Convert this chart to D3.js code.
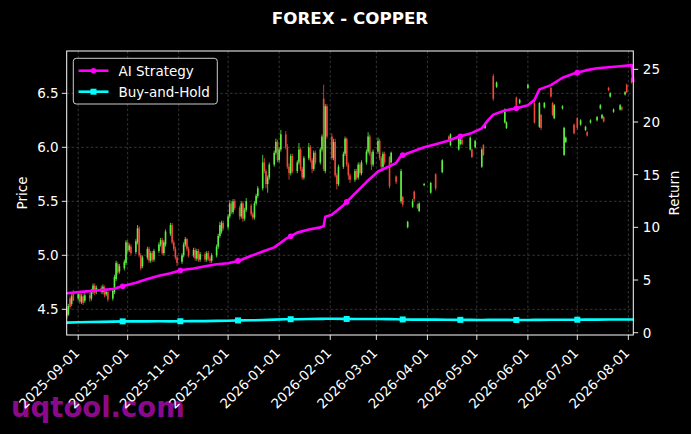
<!DOCTYPE html>
<html><head><meta charset="utf-8">
<script src="https://cdn.jsdelivr.net/npm/d3@7"></script>
<style>html,body{margin:0;padding:0;background:#000;}svg{display:block;font-family:"DejaVu Sans",sans-serif;}</style>
</head><body>
<script>
// ---------- DATA ----------
const title = "FOREX - COPPER";
const startDay = "2025-08-25", endDay = "2026-08-04";
// daily candles on business days (Mon..Fri) from startDay, one row per week
const opens = [
4.50,4.45,4.60,4.55,4.66, 4.60,4.64,4.57,4.62,4.58, 4.63,4.60,4.66,4.72,4.66, 4.70,4.66,4.70,4.64,4.66,
4.60,4.66,4.78,4.92,4.85, 4.88,4.93,5.12,5.05,5.08, 5.03,5.12,5.25,5.00,4.90, 4.98,5.06,4.95,5.02,4.96,
5.04,5.10,5.14,5.02,5.10, 5.20,5.28,5.12,5.06,4.98, 4.94,5.00,5.10,5.15,5.06, 5.00,5.05,4.97,5.04,4.96,
5.01,4.96,5.02,4.97,4.95, 5.00,5.08,5.18,5.22,5.30, 5.26,5.36,5.48,5.40,5.50, 5.44,5.36,5.48,5.34,5.42,
5.46,5.38,5.35,5.48,5.55, 5.62,5.86,5.78,5.66,5.72, 5.84,5.95,6.05,5.88,5.98, 6.12,6.00,5.82,5.76,5.92,
5.78,5.86,5.98,5.80,5.72, 5.90,6.00,5.88,5.80,5.95, 5.86,5.98,6.45,5.78,6.38, 6.10,5.90,6.05,5.74,5.66,
5.82,5.94,6.08,5.84,5.74, 5.70,5.78,5.72,5.84,5.76, 5.86,5.96,6.10,5.94,5.84, 5.96,6.06,5.90,5.82,5.94,
5.91,5.86,null,null,5.73, 5.50,5.54,null,null,5.26, 5.45,5.59,null,5.47,5.41, 5.65,null,null,null,5.58,
5.75,null,null,null,5.77, null,6.10,6.02,null,null, 5.98,6.03,6.07,null,null, 5.98,5.98,null,6.00,null,
5.82,6.02,6.18,null,null, 6.66,null,6.56,null,null, 6.23,6.18,null,null,null, 6.46,null,6.41,null,null,
6.55,null,null,null,6.41, 6.19,6.30,null,6.37,null, 6.55,6.41,6.27,null,null, 6.36,5.93,6.05,null,null,
6.21,null,6.27,null,6.21, 6.16,6.14,null,6.23,null, 6.25,null,6.36,6.27,6.28, 6.55,6.47,null,6.33,null,
6.35,6.37,null,6.49,6.58, 6.64,null];
const closes = [
4.43,4.53,4.52,4.62,4.58, 4.64,4.57,4.62,4.56,4.63, 4.60,4.67,4.72,4.65,4.70, 4.66,4.71,4.63,4.66,4.59,
4.67,4.80,4.93,4.84,4.90, 4.94,5.12,5.04,5.09,5.02, 5.13,5.25,5.00,4.88,4.98, 5.06,4.95,5.02,4.96,5.04,
5.10,5.14,5.02,5.12,5.22, 5.28,5.12,5.06,4.98,4.93, 5.00,5.10,5.15,5.06,5.00, 5.05,4.97,5.04,4.96,5.01,
4.96,5.02,4.97,4.95,5.00, 5.08,5.18,5.28,5.30,5.25, 5.36,5.48,5.40,5.50,5.44, 5.36,5.48,5.34,5.42,5.50,
5.38,5.35,5.48,5.55,5.62, 5.86,5.78,5.66,5.72,5.84, 5.95,6.05,5.88,5.98,6.12, 6.00,5.82,5.76,5.92,5.78,
5.86,5.98,5.80,5.72,5.90, 6.00,5.88,5.80,5.95,5.86, 5.98,6.10,5.80,6.38,6.10, 5.90,6.05,5.74,5.66,5.82,
5.94,6.08,5.84,5.74,5.70, 5.78,5.72,5.84,5.76,5.86, 5.96,6.10,5.94,5.84,5.96, 6.06,5.90,5.82,5.94,5.86,
5.64,5.95,null,null,5.68, 5.78,5.47,null,null,5.31, 5.50,5.52,null,5.44,5.48, 5.66,null,null,null,5.67,
5.62,null,null,null,5.88, null,6.06,6.12,null,null, 6.08,6.07,6.03,null,null, 6.09,5.91,null,6.06,null,
5.98,5.93,6.22,null,null, 6.45,null,6.60,null,null, 6.35,6.23,null,null,null, 6.39,null,6.44,null,null,
6.58,null,null,null,6.23, 6.41,6.18,null,6.41,null, 6.47,6.30,6.39,null,null, 6.38,6.18,6.09,null,null,
6.13,null,6.18,null,6.25, 6.19,6.11,null,6.25,null, 6.28,null,6.39,6.30,6.24, 6.53,6.50,null,6.35,null,
6.39,6.35,null,6.51,6.51, 6.60,null];
const highs = [
4.52,4.55,4.62,4.64,4.68, 4.66,4.66,4.64,4.64,4.65, 4.65,4.69,4.74,4.74,4.72, 4.72,4.73,4.72,4.68,4.68,
4.69,4.82,4.95,4.94,4.92, 4.96,5.14,5.14,5.11,5.10, 5.15,5.28,5.27,5.02,5.00, 5.08,5.08,5.04,5.04,5.06,
5.12,5.16,5.16,5.14,5.24, 5.30,5.30,5.14,5.08,5.00, 5.02,5.12,5.17,5.16,5.08, 5.07,5.07,5.06,5.06,5.03,
5.03,5.04,5.04,4.99,5.02, 5.10,5.20,5.31,5.32,5.32, 5.38,5.51,5.50,5.52,5.52, 5.46,5.50,5.50,5.44,5.53,
5.48,5.40,5.50,5.57,5.64, 5.93,5.90,5.80,5.74,5.86, 5.97,6.08,6.07,6.00,6.16, 6.15,6.03,5.85,5.94,5.94,
5.88,6.04,6.00,5.82,5.92, 6.04,6.02,5.90,5.97,5.97, 6.00,6.12,6.58,6.40,6.40, 6.13,6.08,6.08,5.76,5.84,
5.96,6.10,6.09,5.86,5.76, 5.80,5.80,5.86,5.86,5.88, 5.98,6.14,6.12,5.96,5.98, 6.09,6.08,5.92,5.96,5.96,
5.92,5.96,null,null,5.74, 5.80,5.55,null,null,5.32, 5.52,5.60,null,5.48,5.49, 5.67,null,null,null,5.68,
5.76,null,null,null,5.89, null,6.11,6.13,null,null, 6.09,6.08,6.08,null,null, 6.10,5.99,null,6.07,null,
5.99,6.03,6.23,null,null, 6.68,null,6.61,null,null, 6.36,6.24,null,null,null, 6.47,null,6.45,null,null,
6.59,null,null,null,6.43, 6.42,6.31,null,6.42,null, 6.56,6.42,6.40,null,null, 6.39,6.19,6.10,null,null,
6.22,null,6.28,null,6.26, 6.20,6.15,null,6.26,null, 6.29,null,6.40,6.31,6.29, 6.56,6.51,null,6.36,null,
6.40,6.38,null,6.52,6.59, 6.65,null];
const lows = [
4.41,4.44,4.50,4.53,4.58, 4.58,4.55,4.55,4.54,4.56, 4.57,4.58,4.64,4.63,4.64, 4.64,4.64,4.61,4.62,4.57,
4.58,4.64,4.76,4.82,4.83, 4.86,4.91,5.02,5.03,5.00, 5.01,5.10,4.98,4.86,4.88, 4.96,4.93,4.93,4.94,4.94,
5.02,5.08,5.00,5.00,5.08, 5.18,5.10,5.04,4.96,4.90, 4.92,4.98,5.08,5.04,4.98, 4.98,4.95,4.95,4.94,4.94,
4.94,4.94,4.95,4.93,4.93, 4.98,5.06,5.16,5.20,5.23, 5.24,5.34,5.38,5.38,5.42, 5.33,5.34,5.31,5.32,5.40,
5.36,5.33,5.33,5.46,5.53, 5.60,5.76,5.62,5.58,5.70, 5.82,5.93,5.86,5.86,5.96, 5.98,5.80,5.70,5.74,5.76,
5.76,5.84,5.78,5.70,5.70, 5.88,5.86,5.76,5.78,5.84, 5.84,5.96,5.78,5.76,6.08, 5.88,5.88,5.72,5.61,5.64,
5.80,5.92,5.82,5.70,5.67, 5.68,5.70,5.70,5.74,5.74, 5.84,5.94,5.92,5.79,5.82, 5.94,5.88,5.79,5.80,5.84,
5.62,5.85,null,null,5.66, 5.48,5.45,null,null,5.25, 5.44,5.50,null,5.43,5.40, 5.64,null,null,null,5.57,
5.60,null,null,null,5.76, null,6.05,6.01,null,null, 5.97,6.02,6.02,null,null, 5.97,5.90,null,5.99,null,
5.81,5.92,6.17,null,null, 6.43,null,6.55,null,null, 6.22,6.17,null,null,null, 6.38,null,6.40,null,null,
6.54,null,null,null,6.22, 6.18,6.16,null,6.36,null, 6.46,6.29,6.26,null,null, 6.35,5.92,6.04,null,null,
6.12,null,6.16,null,6.20, 6.15,6.10,null,6.22,null, 6.24,null,6.35,6.26,6.23, 6.52,6.46,null,6.32,null,
6.34,6.34,null,6.48,6.50, 6.59,null];

// cumulative returns (right axis)
const retDates = ["2025-08-25","2025-09-01","2025-09-08","2025-09-15","2025-09-22","2025-09-29","2025-10-06","2025-10-13",
"2025-10-20","2025-10-27","2025-11-03","2025-11-10","2025-11-17","2025-11-24","2025-12-01","2025-12-08","2025-12-15",
"2025-12-22","2025-12-29","2026-01-05","2026-01-12","2026-01-19","2026-01-26","2026-01-28","2026-01-29","2026-02-02",
"2026-02-09","2026-02-16","2026-02-23","2026-03-02","2026-03-09","2026-03-13","2026-03-16","2026-03-23","2026-03-30",
"2026-04-06","2026-04-13","2026-04-20","2026-04-27","2026-05-04","2026-05-08","2026-05-11","2026-05-18","2026-05-25",
"2026-06-01","2026-06-05","2026-06-08","2026-06-15","2026-06-22","2026-06-29","2026-07-06","2026-07-13","2026-07-20",
"2026-07-27","2026-08-03","2026-08-04"];
const aiReturn = [3.75,3.85,3.95,4.05,4.15,4.45,4.75,5.1,
5.4,5.65,5.95,6.1,6.3,6.5,6.6,6.85,7.3,
7.7,8.1,8.9,9.5,9.8,10.0,10.1,11.0,11.2,
12.1,13.2,14.3,15.3,15.8,16.1,16.8,17.2,17.6,
17.9,18.2,18.6,18.9,19.4,20.2,20.7,21.1,21.3,
21.6,22.1,23.1,23.5,24.2,24.6,24.9,25.1,25.2,
25.3,25.4,23.8];
const bhReturn = [0.96,0.99,1.01,1.03,1.05,1.08,1.08,1.08,
1.09,1.08,1.09,1.10,1.10,1.12,1.14,1.17,1.18,
1.20,1.24,1.28,1.28,1.30,1.31,1.31,1.33,1.32,
1.31,1.30,1.30,1.30,1.29,1.28,1.26,1.24,1.24,
1.24,1.23,1.22,1.22,1.21,1.22,1.22,1.22,1.21,
1.21,1.22,1.22,1.23,1.23,1.23,1.24,1.24,1.25,
1.25,1.25,1.25];
const markerDates = ["2025-09-28","2025-11-02","2025-12-07","2026-01-08","2026-02-11","2026-03-17","2026-04-21","2026-05-25","2026-07-01"];
const priceTicks = [4.5,5.0,5.5,6.0,6.5];
const returnTicks = [0,5,10,15,20,25];
const seriesNames = ["AI Strategy","Buy-and-Hold"];

// ---------- CHART ----------
const W = 691, H = 434;
const M = {left:66.7, right:633.3, top:51, bottom:335};
const parse = d3.timeParse("%Y-%m-%d");
const fmt = d3.timeFormat("%Y-%m-%d");
const svg = d3.select("body").append("svg").attr("width",W).attr("height",H);
svg.append("rect").attr("width",W).attr("height",H).attr("fill","#000");

// watermark (behind)
svg.append("text").attr("x",11).attr("y",417).attr("fill","#8b0a8b")
  .attr("font-size",27.5).attr("font-weight","bold").text("uqtool.com");

const x = d3.scaleTime().domain([parse(startDay), parse(endDay)]).range([M.left, M.right]);
const yP = d3.scaleLinear().domain([4.262, 6.892]).range([M.bottom, M.top]);
const yR = d3.scaleLinear().domain([-0.218, 26.74]).range([M.bottom, M.top]);

// business days
const bdays = d3.timeDay.range(parse(startDay), d3.timeDay.offset(parse(endDay),1))
  .filter(d => d.getDay() !== 0 && d.getDay() !== 6);
const candles = bdays.map((d,i) => ({d, o:opens[i], c:closes[i], h:highs[i], l:lows[i]}))
  .filter(k => k.o != null);

const monthTicks = d3.timeMonth.range(parse("2025-09-01"), d3.timeDay.offset(parse("2026-08-01"),1));

// grid
const grid = svg.append("g").attr("stroke","#4a4a4a").attr("stroke-width",0.7).attr("stroke-dasharray","2.6,2.2");
monthTicks.forEach(t => grid.append("line").attr("x1",x(t)).attr("x2",x(t)).attr("y1",M.top).attr("y2",M.bottom));
priceTicks.forEach(t => grid.append("line").attr("x1",M.left).attr("x2",M.right).attr("y1",yP(t)).attr("y2",yP(t)));

// candles
const cg = svg.append("g");
const up = "#5cf046", dn = "#f0483c";
candles.forEach(k => {
  const col = k.c >= k.o ? up : dn;
  const cx = x(k.d);
  cg.append("line").attr("x1",cx).attr("x2",cx).attr("y1",yP(k.h)).attr("y2",yP(k.l))
    .attr("stroke",col).attr("stroke-width",0.8);
  const y1 = yP(Math.max(k.o,k.c)), y2 = yP(Math.min(k.o,k.c));
  cg.append("rect").attr("x",cx-0.8).attr("width",1.6).attr("y",y1).attr("height",Math.max(0.8,y2-y1))
    .attr("fill",col);
});

// return lines
const rd = retDates.map(parse);
const line = d3.line().x(d => x(d[0])).y(d => yR(d[1]));
const aiPts = rd.map((d,i) => [d, aiReturn[i]]);
const bhPts = rd.map((d,i) => [d, bhReturn[i]]);
svg.append("path").attr("d",line(aiPts)).attr("fill","none").attr("stroke","#ff00ff").attr("stroke-width",2.6).attr("stroke-linejoin","round");
svg.append("path").attr("d",line(bhPts)).attr("fill","none").attr("stroke","#00ffff").attr("stroke-width",2.6).attr("stroke-linejoin","round");

function interp(dates, vals, t){
  const tv = dates.map(d=>+d);
  const i = Math.max(1, Math.min(tv.length-1, d3.bisectLeft(tv, +t)));
  const f = (+t - tv[i-1])/(tv[i]-tv[i-1]);
  return vals[i-1] + f*(vals[i]-vals[i-1]);
}
markerDates.map(parse).forEach(t => {
  svg.append("circle").attr("cx",x(t)).attr("cy",yR(interp(rd,aiReturn,t))).attr("r",2.8).attr("fill","#ff00ff");
  svg.append("rect").attr("x",x(t)-3).attr("y",yR(interp(rd,bhReturn,t))-3).attr("width",6).attr("height",6).attr("fill","#00ffff");
});

// frame
svg.append("rect").attr("x",M.left).attr("y",M.top).attr("width",M.right-M.left).attr("height",M.bottom-M.top)
  .attr("fill","none").attr("stroke","#fff").attr("stroke-width",1);

// axes
const fs = 13.5;
const ax = svg.append("g").attr("fill","#fff").attr("font-size",fs);
monthTicks.forEach(t => {
  const tx = x(t);
  ax.append("line").attr("x1",tx).attr("x2",tx).attr("y1",M.bottom).attr("y2",M.bottom+4.9).attr("stroke","#fff").attr("stroke-width",0.9);
  ax.append("text").attr("transform",`translate(${tx+2},${M.bottom+19}) rotate(-45)`).attr("text-anchor","end").text(fmt(t));
});
priceTicks.forEach(t => {
  ax.append("line").attr("x1",M.left-4.9).attr("x2",M.left).attr("y1",yP(t)).attr("y2",yP(t)).attr("stroke","#fff").attr("stroke-width",0.9);
  ax.append("text").attr("x",M.left-8).attr("y",yP(t)).attr("dy","0.36em").attr("text-anchor","end").text(d3.format(".1f")(t));
});
returnTicks.forEach(t => {
  ax.append("line").attr("x1",M.right).attr("x2",M.right+4.9).attr("y1",yR(t)).attr("y2",yR(t)).attr("stroke","#fff").attr("stroke-width",0.9);
  ax.append("text").attr("x",M.right+9.5).attr("y",yR(t)).attr("dy","0.36em").attr("text-anchor","start").text(t);
});
ax.append("text").attr("transform",`translate(27,${(M.top+M.bottom)/2}) rotate(-90)`).attr("text-anchor","middle").text("Price");
ax.append("text").attr("transform",`translate(679,${(M.top+M.bottom)/2}) rotate(-90)`).attr("text-anchor","middle").text("Return");

// title
svg.append("text").attr("x",(M.left+M.right)/2).attr("y",24).attr("text-anchor","middle").attr("fill","#fff")
  .attr("font-size",16.7).attr("font-weight","bold").text(title);

// legend
const lg = svg.append("g");
lg.append("rect").attr("x",73.3).attr("y",58.3).attr("width",144).attr("height",45.7).attr("rx",3)
  .attr("fill","#000").attr("fill-opacity",0.8).attr("stroke","#cccccc").attr("stroke-width",1);
const lcols = ["#ff00ff","#00ffff"];
seriesNames.forEach((n,i) => {
  const ly = 70.7 + i*21;
  lg.append("line").attr("x1",78.5).attr("x2",108.5).attr("y1",ly).attr("y2",ly).attr("stroke",lcols[i]).attr("stroke-width",2.6);
  if(i===0) lg.append("circle").attr("cx",93.5).attr("cy",ly).attr("r",2.8).attr("fill",lcols[i]);
  else lg.append("rect").attr("x",90.5).attr("y",ly-3).attr("width",6).attr("height",6).attr("fill",lcols[i]);
  lg.append("text").attr("x",118.5).attr("y",ly).attr("dy","0.36em").attr("fill","#fff").attr("font-size",fs).text(n);
});
</script>
</body></html>
